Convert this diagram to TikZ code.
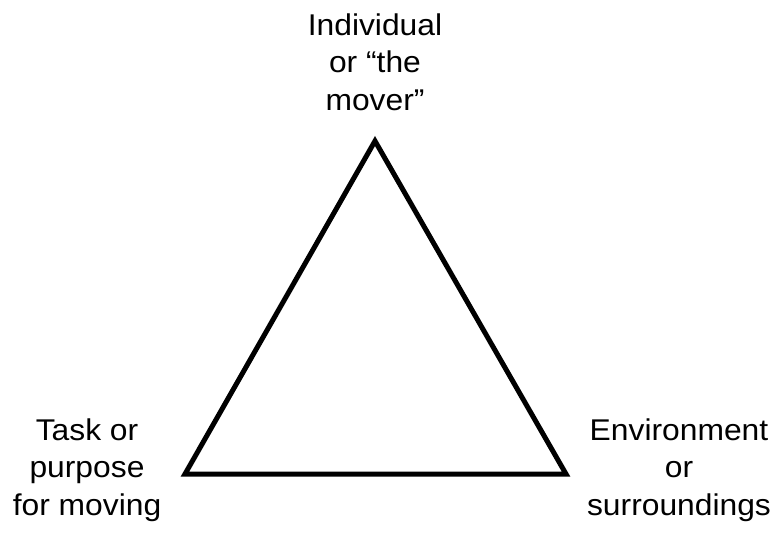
\documentclass[tikz,border=0pt]{standalone}
\usepackage{fontspec}
\setmainfont{Liberation Sans}[FakeStretch=1.06]
\begin{document}
\begin{tikzpicture}[x=1pt,y=-1pt,
  lbl/.style={align=center, inner sep=0pt, anchor=base,
    font=\fontsize{30}{37.5}\selectfont},
  edge/.style={line width=5pt, line join=miter}]
\useasboundingbox (0,0) rectangle (776,533);
\coordinate (A) at (375,141);
\coordinate (B) at (185,474);
\coordinate (C) at (566,474);
\draw[edge] (A) -- (B) -- (C) -- cycle;
\node[lbl] (top) at (375,110) {Individual\\or “the\\mover”};
\node[lbl] (left) at (87,515) {Task or\\purpose\\for moving};
\node[lbl] (right) at (679,515) {Environment\\or\\surroundings};
\end{tikzpicture}
\end{document}
